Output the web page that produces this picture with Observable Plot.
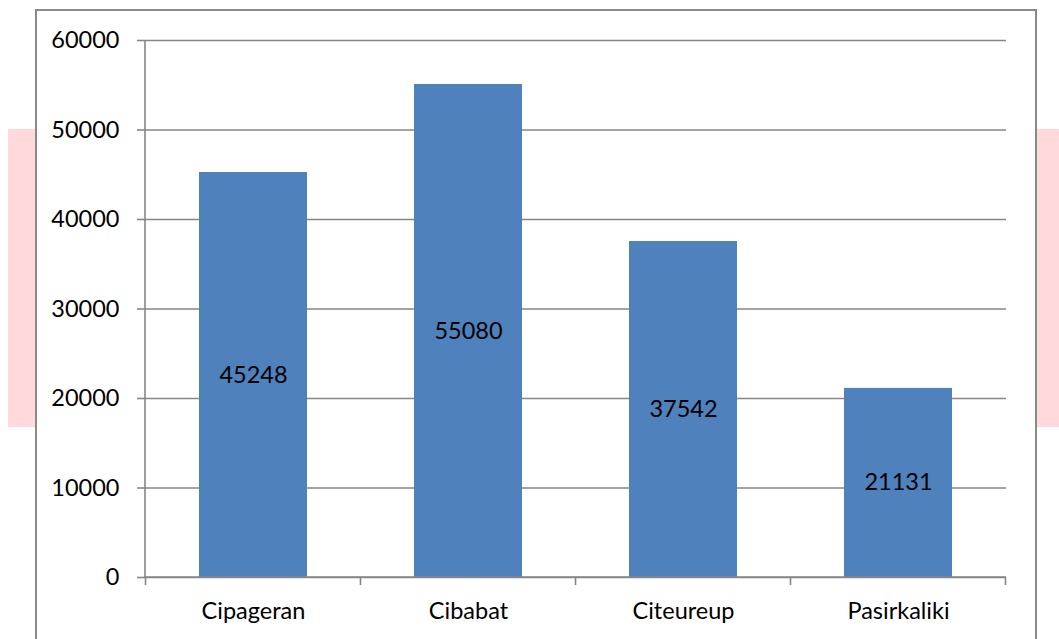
<!DOCTYPE html>
<html>
<head>
<meta charset="utf-8">
<script src="https://cdn.jsdelivr.net/npm/d3@7"></script>
<script src="https://cdn.jsdelivr.net/npm/@observablehq/plot@0.6"></script>
<style>
  html, body { margin: 0; padding: 0; background: #fff; width: 1059px; height: 639px; overflow: hidden; }
  #wrap { position: relative; width: 1059px; height: 639px; }
  .pink { position: absolute; background: #ffd9dc; top: 129px; height: 298px; }
  #frame { position: absolute; left: 35px; top: 9px; width: 998px; height: 700px; border: 2px solid #8a8a8a; background: #fff; }
  #chart { position: absolute; left: 0; top: 0; }
</style>
</head>
<body>
<div id="wrap">
  <div class="pink" style="left:8px; width:28px;"></div>
  <div class="pink" style="left:1037px; width:22px;"></div>
  <div id="frame"></div>
  <div id="chart"></div>
</div>
<script>
const categories = ["Cipageran", "Cibabat", "Citeureup", "Pasirkaliki"];
const values = [45248, 55080, 37542, 21131];
const yTicks = [0, 10000, 20000, 30000, 40000, 50000, 60000];

const data = categories.map((c, i) => ({category: c, value: values[i]}));
const FONT = "Lato, 'Open Sans', sans-serif";
const FS = 23.5;
const GRID = "#868686";

function axisLines(index, scales, vals, dims) {
  const x = scales.x, y = scales.y;
  const left = dims.marginLeft, right = dims.width - dims.marginRight;
  const y0 = y(0);
  const bw = x.bandwidth ? x.bandwidth() : 0;
  const step = x.step ? x.step() : 0;
  const bounds = categories.map(c => x(c) - (step - bw) / 2);
  bounds.push(bounds[bounds.length - 1] + step);
  const g = d3.create("svg:g").attr("stroke", GRID).attr("stroke-width", 1.6).attr("fill", "none");
  g.append("line").attr("x1", left).attr("x2", left).attr("y1", y(60000)).attr("y2", y0);
  g.append("line").attr("x1", left).attr("x2", right).attr("y1", y0).attr("y2", y0);
  for (const b of bounds) {
    g.append("line").attr("x1", b).attr("x2", b).attr("y1", y0).attr("y2", y0 + 8);
  }
  return g.node();
}

const chart = Plot.plot({
  width: 1059,
  height: 639,
  marginLeft: 145,
  marginRight: 53,
  marginTop: 40,
  marginBottom: 62,
  style: {background: "transparent", fontFamily: FONT, fontSize: FS + "px", color: "#000"},
  x: {domain: categories, paddingInner: 0.5, paddingOuter: 0.25, label: null},
  y: {domain: [0, 60000], label: null},
  marks: [
    Plot.gridY(yTicks, {stroke: GRID, strokeOpacity: 1, strokeWidth: 1.6}),
    Plot.axisY(yTicks, {tickSize: 8, tickPadding: 18, stroke: GRID, strokeWidth: 1.6, tickFormat: d => String(d), fontSize: FS, fill: "#000"}),
    Plot.axisX({tickSize: 0, tickPadding: 25, fontSize: FS, fill: "#000"}),
    Plot.barY(data, {x: "category", y: "value", fill: "#4f81bd"}),
    axisLines,
    Plot.text(data, {x: "category", y: d => d.value / 2, text: d => String(d.value), fontSize: FS, fill: "#000"})
  ]
});
document.getElementById("chart").appendChild(chart);
</script>
</body>
</html>
